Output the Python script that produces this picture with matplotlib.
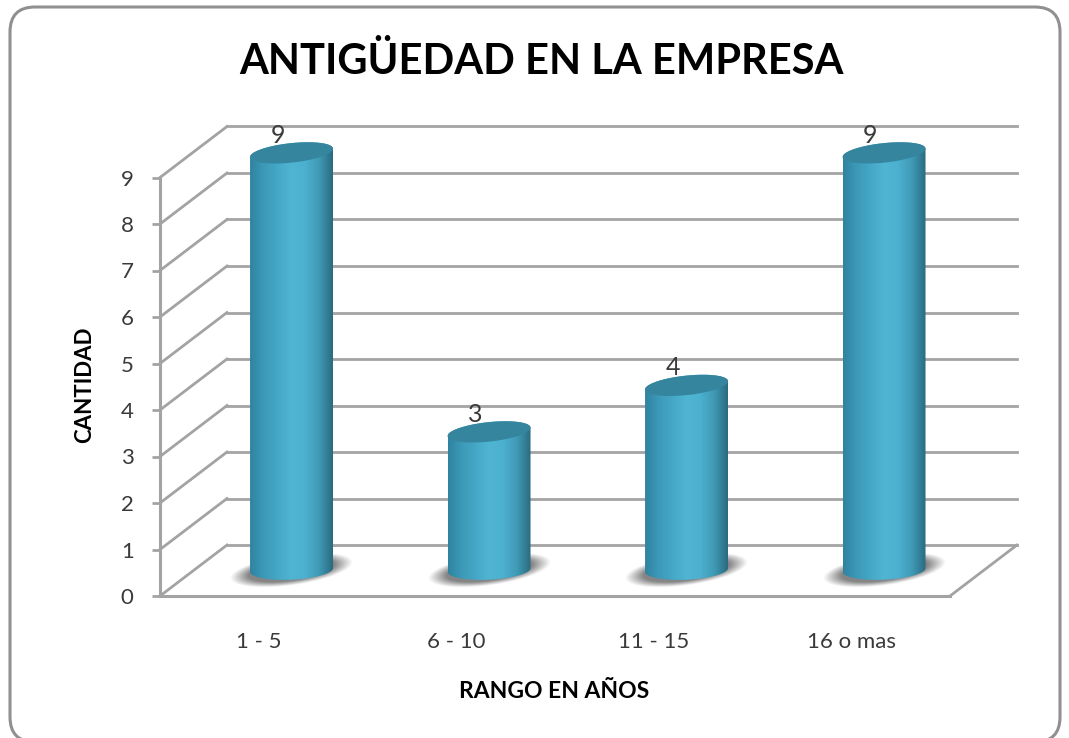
import numpy as np
import matplotlib
matplotlib.use("Agg")
import matplotlib.pyplot as plt
from matplotlib.colors import LinearSegmentedColormap
from matplotlib.patches import FancyBboxPatch, PathPatch, Polygon
from matplotlib.path import Path

categories = ["1 - 5", "6 - 10", "11 - 15", "16 o mas"]
values = [9, 3, 4, 9]
y_ticks = [0, 1, 2, 3, 4, 5, 6, 7, 8, 9]

W, H = 1069, 738
X0, UX = 160, 197.5   # pixel of the front plane start, pixels per category
Y0, UY = 596, 46.5    # pixel of value 0, pixels per unit
DX, DY = 67 / UX, 51 / UY  # depth of the 3d box in data units
GRID = "#a3a3a3"
TEXT = "#3a3a3a"

plt.rcParams["font.family"] = ["Lato", "DejaVu Sans"]

fig = plt.figure(figsize=(W / 100, H / 100), dpi=100, facecolor="white")

# rounded frame, behind the axes
fig.add_artist(FancyBboxPatch((10 / W, 1 - 742 / H), 1050 / W, 735 / H,
                              boxstyle=f"round,pad=0,rounding_size={25 / W}", mutation_aspect=W / H,
                              transform=fig.transFigure, fc="white", ec="#909090", lw=2.2, zorder=-5))

ax = fig.add_axes([0, 0, 1, 1], facecolor="none")
ax.set_xlim(-0.5 - X0 / UX, -0.5 + (W - X0) / UX)
ax.set_ylim(-(H - Y0) / UY, Y0 / UY)

for s in ["top", "right"]:
    ax.spines[s].set_visible(False)
ax.spines["left"].set_position(("data", -0.5))
ax.spines["left"].set_bounds(0, max(y_ticks))
ax.spines["bottom"].set_position(("data", 0))
ax.spines["bottom"].set_bounds(-0.5, 3.5)
for s in ["left", "bottom"]:
    ax.spines[s].set_color(GRID)
    ax.spines[s].set_linewidth(2.2)

ax.set_yticks(y_ticks)
ax.set_xticks(range(len(categories)), categories)
ax.tick_params(axis="y", length=6, width=2, color=GRID, labelcolor=TEXT, labelsize=16, pad=13)
ax.tick_params(axis="x", length=0, labelcolor=TEXT, labelsize=16, pad=26)

# back wall, side wall and floor lines
for t in y_ticks:
    ax.plot([-0.5 + DX, 3.5 + DX], [t + DY, t + DY], color=GRID, lw=2, zorder=1)
    ax.plot([-0.5, -0.5 + DX], [t, t + DY], color=GRID, lw=2, zorder=1)
ax.plot([3.5, 3.5 + DX], [0, DY], color=GRID, lw=2, zorder=1)

# cylinders
cyl = LinearSegmentedColormap.from_list("cyl", ["#2f83a0", "#3c9ab8", "#45a8c6", "#50b4d3",
                                                 "#4cb0cf", "#3f9ab6", "#2a6a80"])
grad = np.linspace(0, 1, 256).reshape(1, -1)
half_w = 0.21
ell_h = 0.42
ox, oy = 0.166, 0.56
shear_top = 0.1 * UX / UY  # the ellipses lean up to the right
shear_base = 0.045 * UX / UY

for i, v in enumerate(values):
    cx = i + ox
    base = oy
    top = v + oy - 0.03

    # soft shadow on the floor
    sw, sh = 0.31, 0.33
    sx = np.linspace(-1, 1, 200)
    sy = np.linspace(-1, 1, 120)
    xx, yy = np.meshgrid(sx, sy)
    px = xx * sw
    py = yy * sh * 2.2
    r = np.sqrt((px / sw) ** 2 + ((py - 0.13 * UX / UY * px) / sh) ** 2)
    shadow = np.zeros(r.shape + (4,))
    shadow[..., :3] = 0.5
    shadow[..., 3] = np.clip((1 - r) / 0.3, 0, 1) * 0.95
    ax.imshow(shadow, extent=[cx - sw, cx + sw, base - sh * 2.2, base + sh * 2.2],
              aspect="auto", zorder=2, origin="lower", interpolation="bilinear")

    # body with horizontal gradient, clipped to the cylinder outline
    t = np.linspace(np.pi, 2 * np.pi, 60)
    low_x = cx + half_w * np.cos(t)
    low_y = base + ell_h / 2 * np.sin(t) + shear_base * (low_x - cx)
    up_t = np.linspace(0, np.pi, 60)
    up_x = cx + half_w * np.cos(up_t)
    up_y = top + ell_h / 2 * np.sin(up_t) + shear_top * (up_x - cx)
    verts = np.r_[np.c_[low_x, low_y], np.c_[up_x, up_y], [[low_x[0], low_y[0]]]]
    codes = [Path.MOVETO] + [Path.LINETO] * (len(verts) - 2) + [Path.CLOSEPOLY]
    clip = PathPatch(Path(verts, codes), transform=ax.transData, fc="none", ec="none")
    ax.add_patch(clip)
    im = ax.imshow(grad, extent=[cx - half_w, cx + half_w, base - ell_h, top + ell_h], cmap=cyl,
                   aspect="auto", zorder=3)
    im.set_clip_path(clip)

    # top cap
    cap_t = np.linspace(0, 2 * np.pi, 120)
    cap_x = cx + half_w * np.cos(cap_t)
    cap_y = top + ell_h / 2 * np.sin(cap_t) + shear_top * (cap_x - cx)
    ax.add_patch(Polygon(np.c_[cap_x, cap_y], closed=True, fc="#35859f", ec="none", zorder=4))

    ax.text(i + 0.095, v + DY - 0.19, str(v), ha="center", va="center", fontsize=18, color=TEXT, zorder=5)

ax.set_xlim(-0.5 - X0 / UX, -0.5 + (W - X0) / UX)
ax.set_ylim(-(H - Y0) / UY, Y0 / UY)

fig.text(541 / W, 1 - 62 / H, "ANTIGÜEDAD EN LA EMPRESA", ha="center", va="center",
         fontsize=30, fontweight="bold", color="black")
fig.text(85 / W, 1 - 385 / H, "CANTIDAD", rotation=90, ha="center", va="center",
         fontsize=16, fontweight="bold", color="black")
fig.text(554 / W, 1 - 692 / H, "RANGO EN AÑOS", ha="center", va="center",
         fontsize=16.5, fontweight="bold", color="black")

fig.savefig("out.png", dpi=100, facecolor="white")
